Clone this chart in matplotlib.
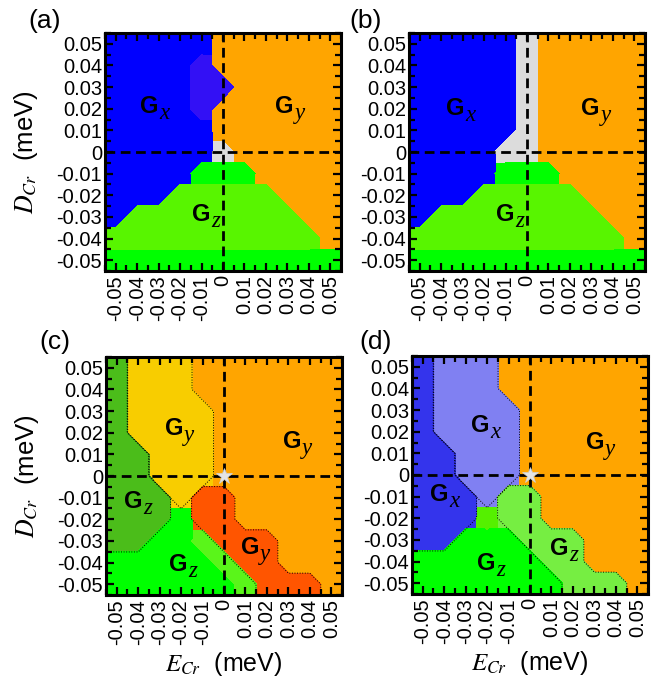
import numpy as np
import matplotlib
matplotlib.use('Agg')
import matplotlib.pyplot as plt
from matplotlib.colors import ListedColormap
from matplotlib.ticker import MultipleLocator

plt.rcParams['font.family'] = ['Liberation Sans', 'DejaVu Sans']
plt.rcParams['mathtext.fontset'] = 'stix'

# E_Cr (columns, left->right) and D_Cr (rows, top->bottom), meV
e_vals = [-0.05, -0.04, -0.03, -0.02, -0.01, 0.0, 0.01, 0.02, 0.03, 0.04, 0.05]
d_vals = [0.05, 0.04, 0.03, 0.02, 0.01, 0.0, -0.01, -0.02, -0.03, -0.04, -0.05]
tick_vals = [-0.05, -0.04, -0.03, -0.02, -0.01, 0.0, 0.01, 0.02, 0.03, 0.04, 0.05]
tick_labels = ['-0.05', '-0.04', '-0.03', '-0.02', '-0.01', '0',
               '0.01', '0.02', '0.03', '0.04', '0.05']

# ground-state phase on the grid, one letter per point
phase_a = [
    'BBBBBOOOOOO',
    'BBBBPOOOOOO',
    'BBBBPPOOOOO',
    'BBBBPOOOOOO',
    'BBBBBOOOOOO',
    'BBBBBWOOOOO',
    'BBBBGGGOOOO',
    'BBBLLLLLOOO',
    'BLLLLLLLLOO',
    'LLLLLLLLLLO',
    'GGGGGGGGGGG',
]
phase_b = [
    'BBBBBWOOOOO',
    'BBBBBWOOOOO',
    'BBBBBWOOOOO',
    'BBBBBWOOOOO',
    'BBBBBWOOOOO',
    'BBBBWWOOOOO',
    'BBBBGGGOOOO',
    'BBBLLLLLOOO',
    'BLLLLLLLLOO',
    'LLLLLLLLLLO',
    'GGGGGGGGGGG',
]
phase_c = [
    'DYYYOOOOOOO',
    'DYYYOOOOOOO',
    'DYYYYOOOOOO',
    'DYYYYOOOOOO',
    'DDYYYOOOOOO',
    'DDYYYOOOOOO',
    'DDDYRROOOOO',
    'DDDGRROOOOO',
    'DDGGLRRROOO',
    'GGGGGLRROOO',
    'GGGGGGLRRRO',
]
phase_d = [
    'UVVVOOOOOOO',
    'UVVVOOOOOOO',
    'UVVVVOOOOOO',
    'UVVVVOOOOOO',
    'UUVVVOOOOOO',
    'UUVVVOOOOOO',
    'UUUVEEOOOOO',
    'UUULEEOOOOO',
    'UUGGGEEEOOO',
    'GGGGGGEEOOO',
    'GGGGGGGEEEO',
]

# region labels: (E, D, subscript)
labels_a = [(-0.030, 0.021, 'x'), (0.033, 0.021, 'y'), (-0.006, -0.029, 'z')]
labels_b = [(-0.029, 0.020, 'x'), (0.034, 0.020, 'y'), (-0.006, -0.029, 'z')]
labels_c = [(-0.019, 0.022, 'y'), (0.036, 0.016, 'y'), (-0.038, -0.012, 'z'),
            (0.0165, -0.033, 'y'), (-0.017, -0.041, 'z')]
labels_d = [(-0.019, 0.023, 'x'), (0.0345, 0.015, 'y'), (-0.038, -0.009, 'x'),
            (0.018, -0.034, 'z'), (-0.016, -0.041, 'z')]
star_point = (0.0, 0.0)

palette_ab = {'B': '#0000ff', 'O': '#ffa500', 'W': '#dcdcdc', 'G': '#00ff00',
              'L': '#58f500', 'P': '#3310f5'}
palette_c = {'O': '#ffa500', 'Y': '#f8cd00', 'R': '#ff5500', 'D': '#4bbd1a',
             'G': '#00ff00', 'L': '#5af51a'}
palette_d = {'O': '#ffa500', 'V': '#8080f2', 'U': '#3434ec', 'E': '#76ee42',
             'G': '#00ff00', 'L': '#55f000'}


def draw_phase(ax, rows, palette, outline=''):
    grid = np.array([list(r) for r in rows[::-1]])
    grid = np.pad(grid, 1, mode='edge')
    step = e_vals[1] - e_vals[0]
    xs = np.concatenate([[e_vals[0] - step], e_vals, [e_vals[-1] + step]])
    dv = d_vals[::-1]
    ys = np.concatenate([[dv[0] - step], dv, [dv[-1] + step]])
    codes = list(palette)
    idx = np.vectorize(codes.index)(grid)
    cmap = ListedColormap([palette[c] for c in codes])
    ax.pcolormesh(xs, ys, idx, cmap=cmap, vmin=-0.5, vmax=len(codes) - 0.5,
                  shading='nearest', zorder=0.5)
    for c in codes:
        mask = (grid == c).astype(float)
        if mask.any():
            ax.contourf(xs, ys, mask, levels=[0.49, 1.5], colors=[palette[c]],
                        zorder=0.8)
    for c in outline:
        mask = (grid == c).astype(float)
        ax.contour(xs, ys, mask, levels=[0.49], colors='k', linewidths=0.7,
                   linestyles='dotted', zorder=0.9)


def style_axes(ax):
    ax.set_xlim(-0.055, 0.055)
    ax.set_ylim(-0.055, 0.055)
    ax.set_xticks(tick_vals)
    ax.set_xticklabels(tick_labels, rotation=90)
    ax.set_yticks(tick_vals)
    ax.set_yticklabels(tick_labels)
    ax.xaxis.set_minor_locator(MultipleLocator(0.005))
    ax.yaxis.set_minor_locator(MultipleLocator(0.005))
    ax.tick_params(which='both', direction='in', top=True, right=True,
                   width=1.6, labelsize=14.5)
    ax.tick_params(which='major', length=6)
    ax.tick_params(which='minor', length=4)
    ax.tick_params(axis='x', pad=3)
    ax.tick_params(axis='y', pad=2)
    for s in ax.spines.values():
        s.set_linewidth(2.2)
    ax.axhline(0, color='k', lw=2, ls=(0, (3.5, 2)), zorder=3)
    ax.axvline(0, color='k', lw=2, ls=(0, (3.5, 2)), zorder=3)


def put_labels(ax, labels):
    for x, y, sub in labels:
        ax.text(x, y, 'G', fontsize=17, fontweight='bold', ha='right',
                va='center', zorder=6)
        ax.annotate(sub, (x, y), xytext=(0.5, -5), textcoords='offset points',
                    fontsize=16.5, family='Liberation Serif', style='italic',
                    ha='left', va='center', zorder=6)


W, H = 653, 681
fig = plt.figure(figsize=(W / 100, H / 100), dpi=100)
ax_a = fig.add_axes([105 / W, 1 - 271 / H, 236 / W, 238 / H])
ax_b = fig.add_axes([409 / W, 1 - 271 / H, 236 / W, 238 / H])
ax_c = fig.add_axes([106 / W, 1 - 595 / H, 236 / W, 238 / H])
ax_d = fig.add_axes([412 / W, 1 - 594 / H, 236 / W, 238 / H])

draw_phase(ax_a, phase_a, palette_ab)
draw_phase(ax_b, phase_b, palette_ab)
draw_phase(ax_c, phase_c, palette_c, outline='YRD')
draw_phase(ax_d, phase_d, palette_d, outline='VEU')

for ax, labs in [(ax_a, labels_a), (ax_b, labels_b), (ax_c, labels_c), (ax_d, labels_d)]:
    style_axes(ax)
    put_labels(ax, labs)

for ax in (ax_c, ax_d):
    ax.plot(star_point[0], star_point[1], marker='*', ms=12, color='#e4e4e4',
            mec='#d0d0d0', mew=0.5, zorder=7, ls='none')

for ax in (ax_a, ax_c):
    ax.set_ylabel(r'$D_{Cr}$  (meV)', fontsize=18.5)
    ax.yaxis.set_label_coords(-0.275, 0.5)
for ax in (ax_c, ax_d):
    ax.set_xlabel(r'$E_{Cr}$  (meV)', fontsize=18)
    ax.xaxis.set_label_coords(0.5, -0.232)

for txt, x, y in [('(a)', 45, 21), ('(b)', 366, 21), ('(c)', 55, 342), ('(d)', 376, 342)]:
    fig.text(x / W, 1 - y / H, txt, fontsize=19, ha='center', va='center')

fig.savefig('out.png', dpi=100)
